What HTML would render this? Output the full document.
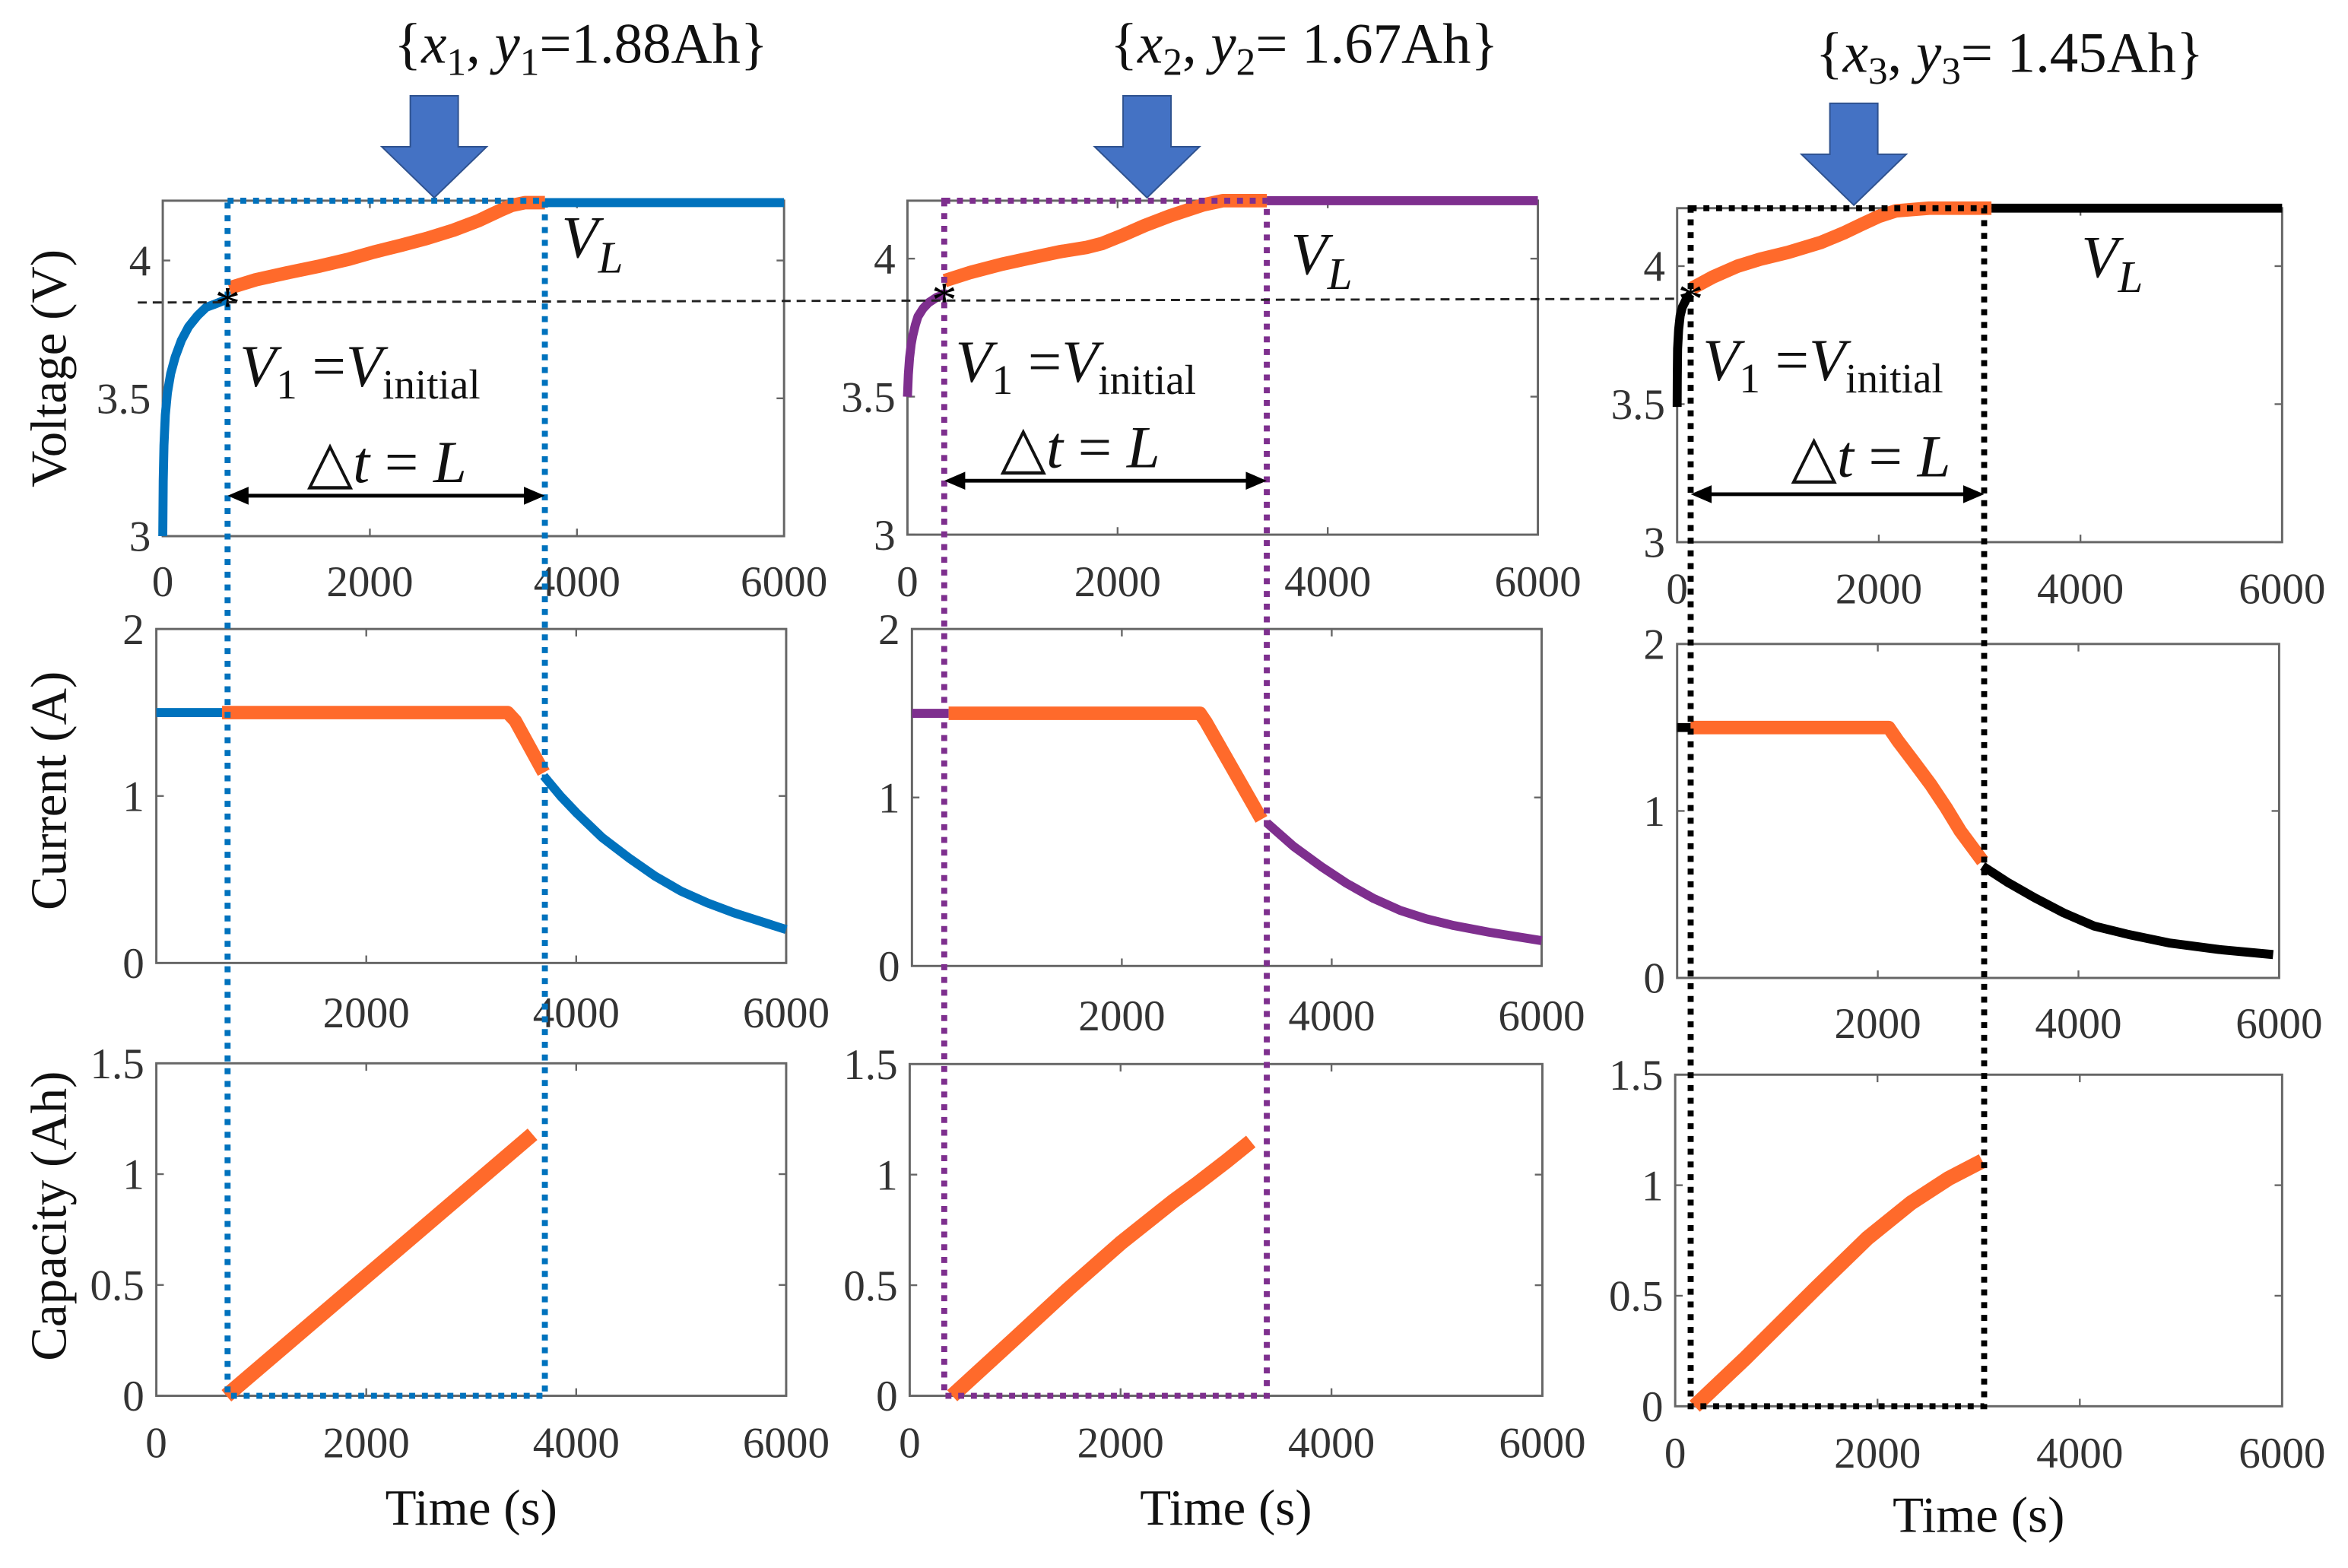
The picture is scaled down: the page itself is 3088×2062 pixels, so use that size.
<!DOCTYPE html>
<html><head><meta charset="utf-8">
<style>
html,body{margin:0;padding:0;background:#fff;}
svg{display:block;}
svg, svg text, svg tspan{font-family:"Liberation Serif","Times New Roman","DejaVu Serif",serif;}
.tick{fill:#333;font-size:29px;}
.lab{fill:#111;font-size:34px;}
.ann{fill:#111;font-size:40px;font-style:italic;}
</style></head>
<body>
<svg id="fig" width="3088" height="2062" viewBox="0 0 1568 1047" preserveAspectRatio="none" font-family="Liberation Serif, serif" xmlns="http://www.w3.org/2000/svg"></svg>
<script>
// ---- data (time in s) ----
const xTicks = [0, 2000, 4000, 6000];
const vTicks = [3, 3.5, 4];
const iTicks = [0, 1, 2];
const cTicks = [0, 0.5, 1, 1.5];
const seriesColors = ["#0072bd", "#7e2f8e", "#000000"];
const winStart = [626, 350, 134];
const winEnd = [3690, 3420, 3045];
const v1PreT = [0, 5, 12, 25, 45, 77, 120, 180, 250, 335, 420, 490, 626];
const v1PreV = [3.0, 3.2, 3.33, 3.44, 3.52, 3.59, 3.65, 3.71, 3.76, 3.8, 3.83, 3.84, 3.86];
const v1OrT = [640, 900, 1200, 1519, 1800, 2034, 2300, 2550, 2807, 3050, 3250, 3373, 3500, 3690];
const v1OrV = [3.9, 3.93, 3.955, 3.98, 4.005, 4.03, 4.055, 4.08, 4.11, 4.145, 4.18, 4.2, 4.21, 4.21];
const v1PostT = [3690, 6000];
const v1PostV = [4.21, 4.21];
const v2PreT = [0, 8, 20, 35, 50, 75, 100, 150, 200, 280, 350];
const v2PreV = [3.5, 3.58, 3.64, 3.69, 3.72, 3.76, 3.79, 3.82, 3.84, 3.86, 3.87];
const v2OrT = [355, 600, 900, 1141, 1450, 1700, 1851, 2050, 2257, 2500, 2815, 3000, 3373, 3420];
const v2OrV = [3.92, 3.95, 3.98, 4.0, 4.025, 4.04, 4.055, 4.085, 4.12, 4.155, 4.195, 4.21, 4.21, 4.21];
const v2PostT = [3420, 6000];
const v2PostV = [4.21, 4.21];
const v3PreT = [0, 2, 5, 15, 30, 50, 90, 134];
const v3PreV = [3.49, 3.6, 3.7, 3.77, 3.82, 3.85, 3.88, 3.9];
const v3OrT = [150, 350, 600, 823, 1100, 1422, 1650, 1821, 2000, 2170, 2500, 3118];
const v3OrV = [3.92, 3.96, 4.0, 4.025, 4.05, 4.085, 4.12, 4.15, 4.18, 4.2, 4.21, 4.21];
const v3PostT = [3118, 6000];
const v3PostV = [4.21, 4.21];
const i1PreT = [0, 626]; const i1PreV = [1.5, 1.5];
const i1OrT = [626, 3347, 3420, 3690]; const i1OrV = [1.5, 1.5, 1.45, 1.14];
const i1PostT = [3690, 3850, 4000, 4250, 4500, 4750, 5000, 5250, 5500, 5750, 6000]; const i1PostV = [1.12, 1.0, 0.9, 0.75, 0.63, 0.52, 0.43, 0.36, 0.3, 0.25, 0.2];
const i2PreT = [0, 350]; const i2PreV = [1.5, 1.5];
const i2OrT = [350, 2746, 2800, 3331]; const i2OrV = [1.5, 1.5, 1.45, 0.87];
const i2PostT = [3382, 3636, 3900, 4144, 4400, 4653, 4900, 5161, 5500, 6000]; const i2PostV = [0.85, 0.71, 0.59, 0.49, 0.4, 0.33, 0.28, 0.24, 0.2, 0.15];
const i3PreT = [0, 134]; const i3PreV = [1.5, 1.5];
const i3OrT = [134, 2109, 2200, 2350, 2525, 2680, 2822, 3045]; const i3OrV = [1.5, 1.5, 1.42, 1.3, 1.16, 1.02, 0.88, 0.7];
const i3PostT = [3045, 3300, 3564, 3850, 4158, 4500, 4901, 5400, 5941]; const i3PostV = [0.67, 0.57, 0.48, 0.39, 0.31, 0.26, 0.21, 0.17, 0.14];
const c1T = [668, 3583]; const c1V = [0, 1.18];
const c2T = [404, 1000, 1500, 2000, 2500, 2730, 3000, 3235]; const c2V = [0, 0.26, 0.48, 0.69, 0.88, 0.96, 1.06, 1.15];
const c3T = [193, 700, 1393, 1900, 2332, 2700, 3036]; const c3V = [0, 0.22, 0.535, 0.76, 0.92, 1.03, 1.11];

const NS = "http://www.w3.org/2000/svg";
const svg = document.getElementById("fig");
function el(tag, attrs, parent) {
  const e = document.createElementNS(NS, tag);
  for (const k in attrs) e.setAttribute(k, attrs[k]);
  (parent || svg).appendChild(e);
  return e;
}
const cols = [
  {v:[108.7,523.6,134,358,4.217], i:[104.4,525,420,643], c:[104.4,525,710,932], xl:[398,686,973], tl:1018},
  {v:[606,1027,134,357,4.21],   i:[609,1029.5,420,645], c:[607.5,1030,710.5,932], xl:[398,688,973], tl:1018},
  {v:[1120,1524,139,362,4.21],  i:[1120,1522,430,653], c:[1118.7,1524,717.6,939], xl:[403,693,980], tl:1023}
];
function sx(p, t){ return p[0] + (p[1]-p[0]) * t / 6000; }
function mkY(p, lo, hi){ return v => p[3] - (p[3]-p[2]) * (v-lo)/(hi-lo); }
function line(p, ys, T, V, color, w, name){
  const d = T.map((t,k)=> (k?"L":"M") + sx(p,t).toFixed(1) + "," + ys(V[k]).toFixed(1)).join(" ");
  const e = el("path", {d:d, fill:"none", stroke:color, "stroke-width":w, "stroke-linejoin":"round"});
  
  
}
function axes(p, ys, yt, xlabY, showX0, name){
  const g = el("g", {});
  
  
  el("rect", {x:p[0], y:p[2], width:p[1]-p[0], height:p[3]-p[2], fill:"none", stroke:"#666", "stroke-width":1.5}, g);
  xTicks.forEach(t=>{
    const x = sx(p,t);
    el("line",{x1:x,y1:p[3],x2:x,y2:p[3]-5,stroke:"#666","stroke-width":1.2},g);
    el("line",{x1:x,y1:p[2],x2:x,y2:p[2]+5,stroke:"#666","stroke-width":1.2},g);
    if (t>0 || showX0) {
      const tx = el("text",{x:x,y:xlabY,"text-anchor":"middle",class:"tick"},g);
      tx.textContent = t;
      
      
    }
  });
  yt.forEach(v=>{
    const y = ys(v);
    el("line",{x1:p[0],y1:y,x2:p[0]+5,y2:y,stroke:"#666","stroke-width":1.2},g);
    el("line",{x1:p[1],y1:y,x2:p[1]-5,y2:y,stroke:"#666","stroke-width":1.2},g);
    const tx = el("text",{x:p[0]-8,y:y+10,"text-anchor":"end",class:"tick"},g);
    tx.textContent = v;
    
    
  });
}
const vData = [[v1PreT,v1PreV,v1OrT,v1OrV,v1PostT,v1PostV],[v2PreT,v2PreV,v2OrT,v2OrV,v2PostT,v2PostV],[v3PreT,v3PreV,v3OrT,v3OrV,v3PostT,v3PostV]];
const iData = [[i1PreT,i1PreV,i1OrT,i1OrV,i1PostT,i1PostV],[i2PreT,i2PreV,i2OrT,i2OrV,i2PostT,i2PostV],[i3PreT,i3PreV,i3OrT,i3OrV,i3PostT,i3PostV]];
const cData = [[c1T,c1V],[c2T,c2V],[c3T,c3V]];
const OR = "#ff6a2b";
const annPos = [
  {vl:[375,172], v1:[160,258], dt:[205,322], ay:331},
  {vl:[862,183], v1:[638,255], dt:[668,312], ay:321},
  {vl:[1390,185], v1:[1137,254], dt:[1196,318], ay:330}
];
cols.forEach((c,ci)=>{
  const vp=c.v, ip=c.i, cp=c.c;
  const vy = mkY(vp, 3, vp[4]);
  const iy = mkY(ip, 0, 2);
  const cy = mkY(cp, 0, 1.5);
  axes(vp, vy, vTicks, c.xl[0], true, "voltage-axes-"+(ci+1));
  axes(ip, iy, iTicks, c.xl[1], false, "current-axes-"+(ci+1));
  axes(cp, cy, cTicks, c.xl[2], true, "capacity-axes-"+(ci+1));
  const col = seriesColors[ci];
  const vd = vData[ci], id = iData[ci];
  line(vp, vy, vd[0], vd[1], col, 6, "voltage-pre-"+(ci+1));
  line(vp, vy, vd[4], vd[5], col, 6, "voltage-post-"+(ci+1));
  line(vp, vy, vd[2], vd[3], OR, 9, "voltage-window-"+(ci+1));
  line(ip, iy, id[0], id[1], col, 6, "current-pre-"+(ci+1));
  line(ip, iy, id[4], id[5], col, 6, "current-post-"+(ci+1));
  line(ip, iy, id[2], id[3], OR, 9, "current-window-"+(ci+1));
  line(cp, cy, cData[ci][0], cData[ci][1], OR, 10, "capacity-window-"+(ci+1));
  const x1 = sx(vp, winStart[ci]), x2 = sx(vp, winEnd[ci]);
  const r = el("path",{d:`M${x1},${vp[2]} L${x2},${vp[2]} L${x2},${cp[3]} L${x1},${cp[3]} Z`, fill:"none", stroke:col, "stroke-width":4, "stroke-dasharray":"4,4.5"});
  
  
  const st = el("text",{x:x1,y:vy(vd[1][vd[1].length-1])+15,"text-anchor":"middle","font-size":"34px",fill:"#000"});
  st.textContent = "*";
  
  
  const a = annPos[ci];
  const vl = el("text",{x:a.vl[0],y:a.vl[1],class:"ann"});
  vl.innerHTML = 'V<tspan font-size="30" dy="10">L</tspan>';
  
  
  const v1 = el("text",{x:a.v1[0],y:a.v1[1],class:"ann"});
  v1.innerHTML = 'V<tspan font-style="normal" font-size="28" dy="8">1</tspan><tspan font-style="normal" dy="-8"> =</tspan>V<tspan font-style="normal" font-size="28" dy="8">initial</tspan>';
  
  
  const dt = el("text",{x:a.dt[0],y:a.dt[1],class:"ann"});
  dt.innerHTML = '<tspan font-style="normal">△</tspan>t <tspan font-style="normal">=</tspan> L';
  
  
  const ar = el("g",{});
  
  
  el("line",{x1:x1+8,y1:a.ay,x2:x2-8,y2:a.ay,stroke:"#000","stroke-width":2.5},ar);
  el("path",{d:`M${x1},${a.ay} l14,-6 l0,12 Z M${x2},${a.ay} l-14,-6 l0,12 Z`,fill:"#000"},ar);
  const tipX = [290,766,1238][ci], tipY = vp[2]-2;
  const ba = el("path",{d:`M${tipX-16},${tipY-68} h32 v34 h19 L${tipX},${tipY} L${tipX-35},${tipY-34} h19 Z`, fill:"#4472c4", stroke:"#2f528f","stroke-width":1});
  
  
  const tx = [388,871,1342][ci], ty=[42,42,48][ci];
  const t = el("text",{x:tx,y:ty,"text-anchor":"middle","font-size":"38px",fill:"#111"});
  const n = ci+1, val = ["1.88Ah","1.67Ah","1.45Ah"][ci], sp = ci===0?"":" ";
  t.innerHTML = `{<tspan font-style="italic">x</tspan><tspan font-size="26" dy="8">${n}</tspan><tspan dy="-8">, </tspan><tspan font-style="italic">y</tspan><tspan font-size="26" dy="8">${n}</tspan><tspan dy="-8">=${sp}${val}}</tspan>`;
  
  
  const tl = el("text",{x:(cp[0]+cp[1])/2,y:c.tl,"text-anchor":"middle",class:"lab"});
  tl.textContent = "Time (s)";
  
  
});
const dl = el("line",{x1:92,y1:202,x2:1120,y2:199.5,stroke:"#222","stroke-width":1.5,"stroke-dasharray":"6,4"});


[["Voltage (V)",246],["Current (A)",528],["Capacity (Ah)",812]].forEach((l,k)=>{
  const e = el("text",{x:0,y:0,transform:`translate(44,${l[1]}) rotate(-90)`,"text-anchor":"middle",class:"lab"});
  e.textContent = l[0];
  
  
});
</script>
</body></html>
